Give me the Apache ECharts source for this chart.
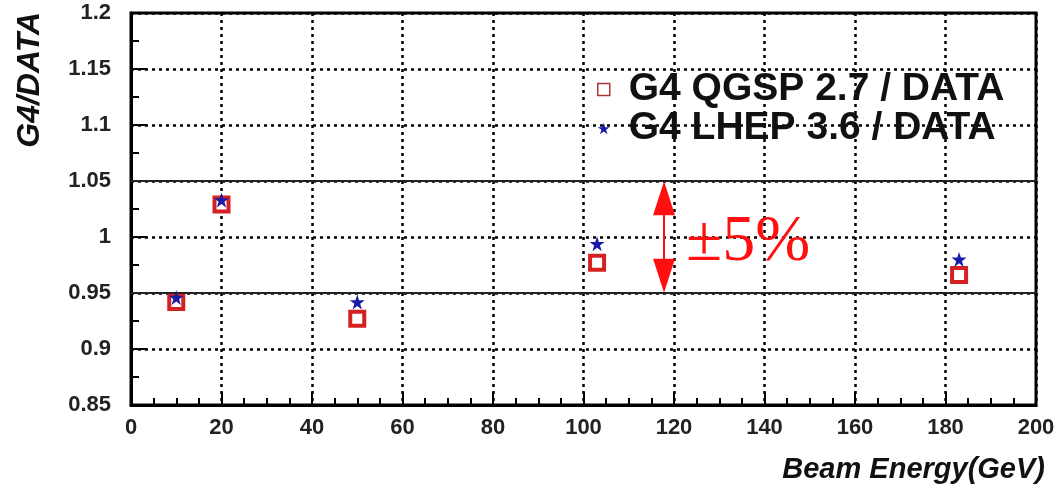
<!DOCTYPE html>
<html>
<head>
<meta charset="utf-8">
<script src="https://cdn.jsdelivr.net/npm/echarts@6/dist/echarts.min.js"></script>
<style>
html,body{margin:0;padding:0;background:#fff;}
#chart{width:1062px;height:491px;}
</style>
</head>
<body>
<div id="chart"></div>
<script>
var energies = [10, 20, 50, 103, 183];
var qgspRatio = [0.942, 1.029, 0.927, 0.977, 0.966];
var lhepRatio = [0.946, 1.033, 0.942, 0.994, 0.980];
var bandLimits = [1.05, 0.95];
var arrowX = 117.8;

var FONT = '"Liberation Sans", Arial, Helvetica, sans-serif';
var STAR = 'path://M50,0 L61.8,35.1 L98.9,35.1 L68.9,57 L80.3,92.1 L50,70.4 L19.7,92.1 L31.1,57 L1.1,35.1 L38.2,35.1 Z';
var SQUARE = 'path://M0,0 L10,0 L10,10 L0,10 Z';
var ARROW_HEAD = [22, 34];
var ARROW_INSET = 0.0153; /* half arrow-head height expressed in y units, so tips meet the band lines */

function pairs(xs, ys){ return xs.map(function(x,i){ return [x, ys[i]]; }); }

var chart = echarts.init(document.getElementById('chart'), null, {renderer:'canvas'});
chart.setOption({
  backgroundColor:'#ffffff',
  animation:false,
  grid:{left:131, right:26, top:13, bottom:86, show:true, borderColor:'#000', borderWidth:3, backgroundColor:'transparent'},
  xAxis:{
    type:'value', min:0, max:200, interval:20,
    name:'Beam Energy(GeV)', nameLocation:'end', nameGap:9,
    nameTextStyle:{fontFamily:FONT, fontSize:29, fontWeight:'bold', fontStyle:'italic', color:'#111', align:'right', verticalAlign:'top', padding:[50,0,0,0]},
    axisLine:{show:true, onZero:false, lineStyle:{color:'#000', width:3}},
    axisTick:{show:true, inside:true, length:13, lineStyle:{color:'#000', width:2}},
    minorTick:{show:true, splitNumber:4, length:7, lineStyle:{color:'#000', width:2}},
    axisLabel:{fontFamily:FONT, fontSize:22, fontWeight:'bold', color:'#222', margin:12},
    splitLine:{show:true, lineStyle:{color:'#000', width:2.5, type:[3,4]}}
  },
  yAxis:{
    type:'value', min:0.85, max:1.2, interval:0.05,
    axisLine:{show:true, onZero:false, lineStyle:{color:'#000', width:3}},
    axisTick:{show:true, inside:true, length:16, lineStyle:{color:'#000', width:2}},
    minorTick:{show:true, splitNumber:2, length:8, lineStyle:{color:'#000', width:2}},
    axisLabel:{fontFamily:FONT, fontSize:22, fontWeight:'bold', color:'#222', margin:20,
      formatter:function(v){ return String(Math.round(v*100)/100); }},
    splitLine:{show:true, lineStyle:{color:'#000', width:2.5, type:[3,4]}}
  },
  legend:{
    show:true, orient:'vertical', left:597, top:70, itemGap:0, padding:0,
    itemWidth:12, itemHeight:12, symbolKeepAspect:true,
    textStyle:{fontFamily:FONT, fontSize:39, fontWeight:'bold', color:'#111', padding:[0,0,0,14]},
    data:[
      {name:'G4 QGSP 2.7 / DATA', icon:SQUARE, itemStyle:{color:'#ffffff', borderColor:'#a83838', borderWidth:1.5}},
      {name:'G4 LHEP 3.6 / DATA', icon:STAR, itemStyle:{color:'#1a1aa8', borderWidth:0}}
    ]
  },
  series:[
    {
      name:'band', type:'line', data:[], silent:true,
      markLine:{
        silent:true, symbol:'none', label:{show:false},
        lineStyle:{color:'#222', width:2, type:'solid'},
        data:bandLimits.map(function(v){ return {yAxis:v}; })
      }
    },
    {
      name:'arrow', type:'line', data:[], silent:true,
      markLine:{
        silent:true, symbol:['triangle','triangle'], symbolSize:ARROW_HEAD, label:{show:false},
        lineStyle:{color:'#ff1010', width:2, type:'solid'},
        itemStyle:{color:'#ff1010'},
        data:[[{coord:[arrowX, bandLimits[0] - ARROW_INSET]},{coord:[arrowX, bandLimits[1] + ARROW_INSET]}]]
      }
    },
    {
      name:'G4 QGSP 2.7 / DATA', type:'scatter', z:3,
      symbol:'rect', symbolSize:14,
      itemStyle:{color:'#ffffff', borderColor:'#d42222', borderWidth:4, opacity:1},
      data:pairs(energies, qgspRatio)
    },
    {
      name:'G4 LHEP 3.6 / DATA', type:'scatter', z:4,
      symbol:STAR, symbolSize:15,
      itemStyle:{color:'#1a1aa8', opacity:1},
      data:pairs(energies, lhepRatio)
    }
  ],
  graphic:[
    {type:'text', left:14, top:12, rotation:Math.PI/2, z:10,
      style:{text:'G4/DATA', fontFamily:FONT, fontSize:32, fontWeight:'bold', fontStyle:'italic', fill:'#111'}},
    {type:'text', left:686, top:210, z:10,
      style:{text:'\u00b15%', fontFamily:'"Liberation Serif", "Times New Roman", serif', fontSize:66, fill:'#ff1010'}}
  ]
});
</script>
</body>
</html>
